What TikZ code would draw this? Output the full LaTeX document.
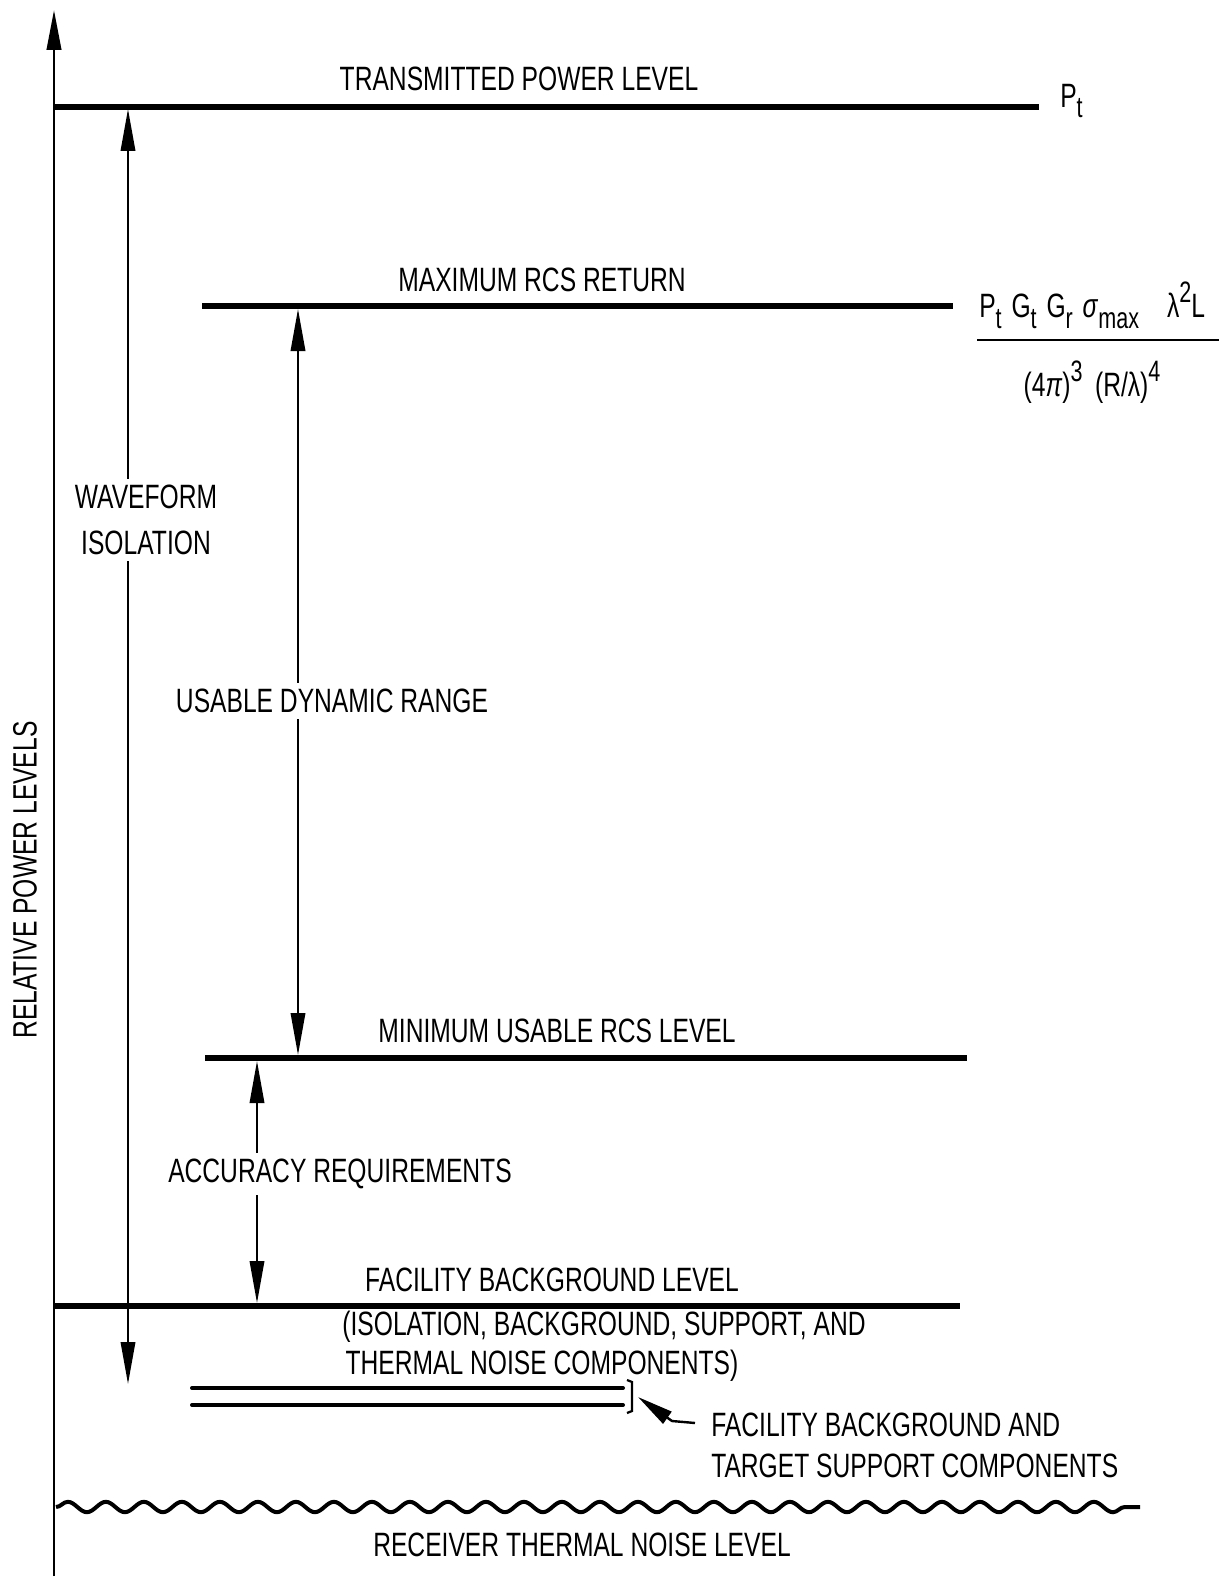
\documentclass[tikz,border=0pt]{standalone}
\usepackage{fontspec}
\setmainfont{Liberation Sans}[FakeStretch=0.73]
\usetikzlibrary{arrows.meta,decorations.pathmorphing}
\newcommand{\lowtxt}[1]{\raisebox{-0.32em}{\fontsize{21pt}{22pt}\selectfont #1}}
\newcommand{\hightxt}[1]{\raisebox{0.45em}{\fontsize{21pt}{22pt}\selectfont #1}}
\begin{document}
\begin{tikzpicture}[x=0.25mm,y=-0.25mm,
  lvl/.style={line width=1.3mm},
  dimarrow/.style={line width=0.55mm,{Triangle[length=10.5mm,width=3.6mm]}-{Triangle[length=10.5mm,width=3.6mm]}},
  lbl/.style={font=\fontsize{24pt}{29pt}\selectfont, inner sep=0pt},
  gap/.style={lbl, fill=white, inner sep=4pt, align=center}]
\useasboundingbox (0,0) rectangle (1222,1586);
% axis
\coordinate (axB) at (54,1576);
\coordinate (axT) at (54,10);
\draw[line width=0.7mm,-{Triangle[length=10mm,width=3.6mm]}] (axB) -- (axT);
\node[lbl, rotate=90] (ylab) at (25,880) {RELATIVE POWER LEVELS};
% transmitted
\coordinate (tA) at (54,107); \coordinate (tB) at (1039,107);
\draw[lvl] (tA) -- (tB);
\node[lbl] (tlab) at (519,79) {TRANSMITTED POWER LEVEL};
\node[lbl, anchor=west] (pt) at (1060,101) {P\lowtxt{t}};
% maximum
\coordinate (mA) at (202,306); \coordinate (mB) at (953,306);
\draw[lvl] (mA) -- (mB);
\node[lbl] (mlab) at (542,280) {MAXIMUM RCS RETURN};
\node[lbl, anchor=west] (num) at (979,305) {P\lowtxt{t}\kern7pt G\lowtxt{t}\kern7pt G\lowtxt{r}\kern7pt\textit{σ}\lowtxt{max}\kern20pt λ\hightxt{2}L};
\node[lbl] (den) at (1092,382) {(4\textit{π})\hightxt{3}\, (R/λ)\hightxt{4}};
\coordinate (fA) at (977,340); \coordinate (fB) at (1219,340);
\draw[line width=0.6mm] (fA) -- (fB);
% minimum
\coordinate (nA) at (205,1058); \coordinate (nB) at (967,1058);
\draw[lvl] (nA) -- (nB);
\node[lbl] (nlab) at (557,1031) {MINIMUM USABLE RCS LEVEL};
% facility
\coordinate (bA) at (54,1306); \coordinate (bB) at (960,1306);
\draw[lvl] (bA) -- (bB);
\node[lbl] (blab) at (552,1280) {FACILITY BACKGROUND LEVEL};
\node[lbl] (blab2) at (604,1327) {(ISOLATION, BACKGROUND, SUPPORT, AND};
\node[lbl] (blab3) at (542,1366) {THERMAL NOISE COMPONENTS)};
% double lines
\coordinate (d1A) at (192,1388); \coordinate (d1B) at (623,1388);
\coordinate (d2A) at (192,1405); \coordinate (d2B) at (623,1405);
\draw[line width=1.0mm, line cap=round] (d1A) -- (d1B);
\draw[line width=1.0mm, line cap=round] (d2A) -- (d2B);
\draw[line width=0.55mm] (627,1380) -- (632,1382) -- (632,1411) -- (627,1413);
\node[lbl, anchor=west, align=left] (flab) at (711,1445) {FACILITY BACKGROUND AND\\TARGET SUPPORT COMPONENTS};
\coordinate (ftip) at (638,1397);
\coordinate (fbend) at (672,1421);
\draw[line width=0.6mm,-{Triangle[length=9mm,width=3.6mm]}] (flab.west) ++(-16,-22) -- (fbend) -- (ftip);
% wavy line
\coordinate (wA) at (56,1507); \coordinate (wB) at (1140,1507);
\draw[line width=1.0mm, decorate, decoration={snake, amplitude=1.3mm, segment length=9.5mm}] (wA) -- (wB);
\node[lbl] (wlab) at (582,1545) {RECEIVER THERMAL NOISE LEVEL};
% dimension arrows
\draw[dimarrow] (128,109) -- (128,1384);
\node[gap] (wfl) at (146,520) {WAVEFORM\\[4pt]ISOLATION};
\draw[dimarrow] (298,309) -- (298,1055);
\node[gap] (udr) at (332,701) {USABLE DYNAMIC RANGE};
\draw[dimarrow] (257,1061) -- (257,1303);
\node[gap] (acc) at (340,1174) {ACCURACY REQUIREMENTS};
\end{tikzpicture}
\end{document}
